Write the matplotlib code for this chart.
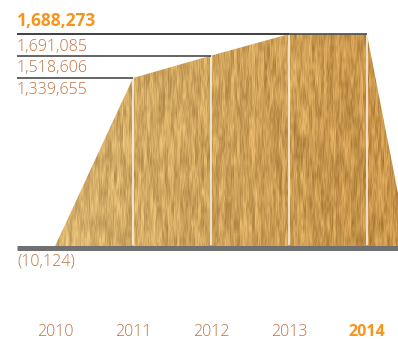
import numpy as np
import matplotlib
matplotlib.use("Agg")
import matplotlib.pyplot as plt
from matplotlib.patches import Polygon
import matplotlib.transforms as mtransforms

# ---- data ----
years = [2010, 2011, 2012, 2013, 2014]
values = [-10124, 1339655, 1518606, 1691085, 1688273]
value_labels = ["(10,124)", "1,339,655", "1,518,606", "1,691,085", "1,688,273"]
year_labels = ["2010", "2011", "2012", "2013", "2014"]

W, H = 398, 339
DPI = 100
fig = plt.figure(figsize=(W / DPI, H / DPI), dpi=DPI)
ax = fig.add_axes([0, 0, 1, 1])
ax.set_axis_off()

# pixel geometry -> data limits
x0px, spacing = 55.0, 78.0
base_px, per_px = 245.0, 8020.0
ax.set_xlim(years[0] - x0px / spacing, years[0] + (W - x0px) / spacing)
ax.set_ylim(-(H - base_px) * per_px, base_px * per_px)

FONT = "Open Sans"
LABEL_COL = "#C0703F"
HIGHLIGHT = "#F7941D"

# ---- textured gold area ----
drop = 0.53
poly_x = years + [years[-1] + drop, years[0]]
poly_y = values + [values[0], values[0]]
poly = Polygon(np.column_stack([poly_x, poly_y]), closed=True,
               facecolor="none", edgecolor="none")
ax.add_patch(poly)

def hsh(a, b):
    v = np.sin(a * 12.9898 + b * 78.233) * 43758.5453
    return v - np.floor(v)

cols = np.arange(W)[None, :]
rows = np.arange(H)[:, None]
# vertical streak noise (fast in x, slow in y)
step = 6.0
r0 = np.floor(rows / step)
t = rows / step - r0
n1 = hsh(cols * 1.0, r0) * (1 - t) + hsh(cols * 1.0, r0 + 1) * t
step2 = 16.0
c2 = np.floor(cols / 3.0)
r2 = np.floor(rows / step2)
t2 = rows / step2 - r2
n2 = hsh(c2 + 311.0, r2) * (1 - t2) + hsh(c2 + 311.0, r2 + 1) * t2
noise = 0.45 * n1 + 0.55 * n2
noise = (noise - noise.mean()) / noise.std()

gx = (cols / W)
light = np.array([216, 182, 114]) / 255.0
dark = np.array([198, 146, 72]) / 255.0
base = light[None, None, :] * (1 - gx[..., None]) + dark[None, None, :] * gx[..., None]
img = base + 0.05 * noise[..., None] * np.array([1.0, 0.95, 0.75])[None, None, :]
img = np.clip(img, 0, 1)
xl, yl = ax.get_xlim(), ax.get_ylim()
im = ax.imshow(img, extent=[xl[0], xl[1], yl[0], yl[1]], aspect="auto",
               origin="upper", interpolation="bilinear", zorder=1)
im.set_clip_path(poly)

# white separators at each year
for yr, v in zip(years[1:], values[1:]):
    ax.plot([yr, yr], [0, v], color="#FBF6EA", lw=1.1, zorder=2,
            solid_capstyle="butt")

# ---- leader lines and value labels ----
label_x = years[0] - 38.0 / spacing
for yr, v in zip(years[1:], values[1:]):
    ax.plot([label_x, yr], [v, v], color="#3A3A3A", lw=1.1, zorder=3,
            solid_capstyle="butt")

below = mtransforms.offset_copy(ax.transData, fig=fig, x=0, y=-4.5, units="dots")
above = mtransforms.offset_copy(ax.transData, fig=fig, x=0, y=8.5, units="dots")
for i in range(1, 4):
    ax.text(label_x, values[i], value_labels[i], transform=below, ha="left",
            va="top", fontsize=11.5, color=LABEL_COL, family=FONT,
            fontweight="light", zorder=4)
ax.text(label_x, values[-1], value_labels[-1], transform=above, ha="left",
        va="baseline", fontsize=12.5, color=HIGHLIGHT, family=FONT,
        fontweight="bold", zorder=4)

# baseline bar
bar_tr = mtransforms.offset_copy(ax.transData, fig=fig, x=0, y=-2.5, units="dots")
ax.plot([label_x, xl[1]], [0, 0], color="#707070", lw=5 * 72 / DPI,
        transform=bar_tr, solid_capstyle="butt", zorder=5)
ax.text(label_x, 0, value_labels[0], transform=mtransforms.offset_copy(
        ax.transData, fig=fig, x=0, y=-9, units="dots"), ha="left", va="top",
        fontsize=11.5, color=LABEL_COL, family=FONT, fontweight="light")

# year labels
ytr = mtransforms.blended_transform_factory(ax.transData, ax.transAxes)
for i, (yr, lab) in enumerate(zip(years, year_labels)):
    last = i == len(years) - 1
    ax.text(yr, 3.0 / H, lab, transform=ytr, ha="center", va="baseline",
            fontsize=11.5, family=FONT,
            color=HIGHLIGHT if last else LABEL_COL,
            fontweight="bold" if last else "light")

fig.savefig("out.png", dpi=DPI)
